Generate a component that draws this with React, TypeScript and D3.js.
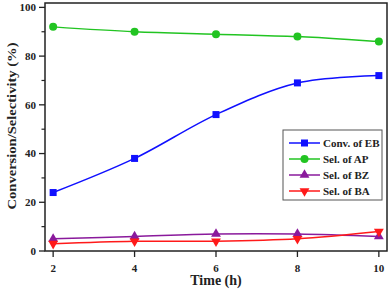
import React from "react";
import * as d3 from "d3";

const times = [2, 4, 6, 8, 10];
const convEB = [24, 38, 56, 69, 72];
const selAP = [92, 90, 89, 88, 86];
const selBZ = [5, 6, 7, 7, 6];
const selBA = [3, 4, 4, 5, 8];
const xTicks = [2, 4, 6, 8, 10];
const yTicks = [0, 20, 40, 60, 80, 100];
const yMinor = [10, 30, 50, 70, 90];

const series = [
  { name: "Conv. of EB", values: convEB, color: "#1010ff", marker: "square" },
  { name: "Sel. of AP", values: selAP, color: "#22c422", marker: "circle" },
  { name: "Sel. of BZ", values: selBZ, color: "#8a1a9c", marker: "up" },
  { name: "Sel. of BA", values: selBA, color: "#ff1a1a", marker: "down" },
];

const W = 390;
const H = 290;
const m = { left: 45, right: 387, top: 3, bottom: 251 };
const font = "'Liberation Serif', 'Times New Roman', serif";

function Marker({ type, x, y, color }: { type: string; x: number; y: number; color: string }) {
  if (type === "square") return <rect x={x - 3.5} y={y - 3.5} width={7} height={7} fill={color} />;
  if (type === "circle") return <circle cx={x} cy={y} r={4} fill={color} />;
  const sym = d3.symbol().type(d3.symbolTriangle).size(42)();
  return <path d={sym || ""} fill={color} transform={`translate(${x},${y})${type === "down" ? " rotate(180)" : ""}`} />;
}

export default function App() {
  const x = d3.scaleLinear().domain([1.8, 10.2]).range([m.left, m.right]);
  const y = d3.scaleLinear().domain([0, 101.8]).range([m.bottom, m.top]);
  const line = d3
    .line<number>()
    .x((_, i) => x(times[i]))
    .y((v) => y(v))
    .curve(d3.curveCatmullRom);

  const legX = 283, legY = 130;

  return (
    <svg width={W} height={H} style={{ position: "absolute", left: 0, top: 0, background: "#fff" }} fontFamily={font}>
      <rect x={m.left} y={m.top} width={m.right - m.left} height={m.bottom - m.top} fill="none" stroke="#222" strokeWidth={1.5} />
      {/* y axis ticks */}
      {yTicks.map((t) => (
        <g key={t}>
          <line x1={m.left - 6} x2={m.left} y1={y(t)} y2={y(t)} stroke="#222" strokeWidth={1.3} />
          <text x={m.left - 9} y={y(t)} dy="0.35em" textAnchor="end" fontSize={11} fontWeight="bold" fill="#222">{t}</text>
        </g>
      ))}
      {yMinor.map((t) => (
        <line key={t} x1={m.left - 3.5} x2={m.left} y1={y(t)} y2={y(t)} stroke="#222" strokeWidth={1.2} />
      ))}
      {xTicks.map((t) => (
        <g key={t}>
          <line x1={x(t)} x2={x(t)} y1={m.bottom} y2={m.bottom + 6} stroke="#222" strokeWidth={1.3} />
          <text x={x(t)} y={m.bottom + 21} textAnchor="middle" fontSize={11} fontWeight="bold" fill="#222">{t}</text>
        </g>
      ))}
      <text x={(m.left + m.right) / 2} y={285} textAnchor="middle" fontSize={14} fontWeight="bold" fill="#222">Time (h)</text>
      <text transform={`translate(11,${126}) rotate(-90)`} dy="0.35em" textAnchor="middle" fontSize={13} fontWeight="bold" fill="#222" textLength={167} lengthAdjust="spacingAndGlyphs">Conversion/Selectivity (%)</text>

      {series.map((s) => (
        <g key={s.name}>
          <path d={line(s.values) || ""} fill="none" stroke={s.color} strokeWidth={1.5} />
          {s.values.map((v, i) => (
            <Marker key={i} type={s.marker} x={x(times[i])} y={y(v)} color={s.color} />
          ))}
        </g>
      ))}

      <rect x={legX} y={legY} width={99} height={70} fill="#fff" stroke="#555" strokeWidth={1} />
      {series.map((s, i) => {
        const ry = legY + 13 + i * 16;
        return (
          <g key={s.name}>
            <line x1={legX + 6} x2={legX + 37} y1={ry} y2={ry} stroke={s.color} strokeWidth={1.5} />
            <Marker type={s.marker} x={legX + 21.5} y={ry} color={s.color} />
            <text x={legX + 40} y={ry} dy="0.35em" fontSize={11} fontWeight="bold" fill="#222">{s.name}</text>
          </g>
        );
      })}
    </svg>
  );
}
